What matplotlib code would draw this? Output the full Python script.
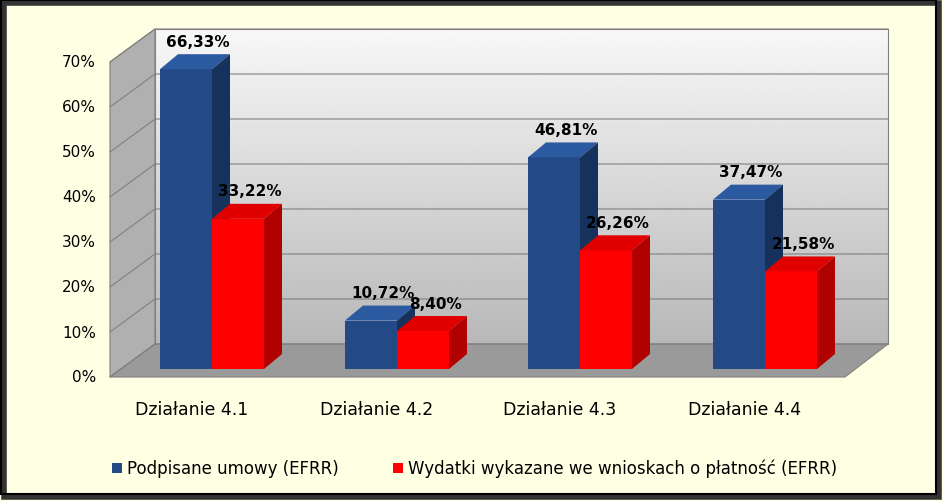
import matplotlib.pyplot as plt
import numpy as np
from matplotlib.patches import Polygon, Rectangle

categories = ["Działanie 4.1", "Działanie 4.2", "Działanie 4.3", "Działanie 4.4"]
signed = [66.33, 10.72, 46.81, 37.47]
spent = [33.22, 8.40, 26.26, 21.58]
series_names = ["Podpisane umowy (EFRR)", "Wydatki wykazane we wnioskach o płatność (EFRR)"]
y_ticks = [0, 10, 20, 30, 40, 50, 60, 70]

W, H = 943, 502
PX = 4.52          # pixels per percent
BASE = 370         # pixel row (from top) of the front 0 line


def py(p):
    # pixel row from top -> data y
    return (BASE - p) / PX


fig = plt.figure(figsize=(W / 100, H / 100), dpi=100)
fig.patch.set_facecolor("#FFFFE4")
ax = fig.add_axes([0, 0, 1, 1])
ax.set_xlim(0, W)
ax.set_ylim(py(H), py(0))
ax.axis("off")

# walls and floor
left_wall = [(110, py(378)), (155, py(345)), (155, py(30)), (110, py(63))]
back_wall = [(155, py(345)), (888, py(345)), (888, py(30)), (155, py(30))]
floor = [(110, py(378)), (155, py(345)), (888, py(345)), (845, py(378))]
grad = np.linspace(0.97, 0.72, 256)[:, None]
im = ax.imshow(grad, cmap="gray", vmin=0, vmax=1, aspect="auto",
               extent=(155, 888, py(345), py(30)), zorder=1)
bw = Polygon(back_wall, closed=True, fc="none", ec="#808080", lw=0.8, zorder=2)
ax.add_patch(bw)
im.set_clip_path(bw)
ax.add_patch(Polygon(left_wall, closed=True, fc="#b0b0b0", ec="#808080", lw=0.8, zorder=1))
ax.add_patch(Polygon(floor, closed=True, fc="#9a9a9a", ec="#808080", lw=0.8, zorder=2))
for k in y_ticks:
    yb = py(345 - 4.5 * k)
    yf = py(378 - 4.5 * k)
    ax.plot([110, 155, 888], [yf, yb, yb], color="#808080", lw=0.8, zorder=2)
    ax.text(96, yf, f"{k}%", ha="right", va="center", fontsize=11)

# 3D bars
DX, DY = 18, 15 / PX
bw_px = 52
centers = [212, 397, 580, 765]
colors = [("#234A86", "#2C5AA0", "#16325C"), ("#FF0000", "#E00000", "#B00000")]
for vals, off, (cf, ct, cs) in [(signed, -bw_px, colors[0]), (spent, 0, colors[1])]:
    xs = [c + off for c in centers]
    ax.bar(xs, vals, width=bw_px, align="edge", color=cf, zorder=5)
    for x0, v in zip(xs, vals):
        x1 = x0 + bw_px
        ax.add_patch(Polygon([(x0, v), (x1, v), (x1 + DX, v + DY), (x0 + DX, v + DY)],
                             fc=ct, ec="none", zorder=5))
        ax.add_patch(Polygon([(x1, 0), (x1 + DX, DY), (x1 + DX, v + DY), (x1, v)],
                             fc=cs, ec="none", zorder=5))
        ax.text(x0 + bw_px / 2 + 12, v + DY + 1.2, f"{v:.2f}%".replace(".", ","),
                ha="center", va="bottom", fontsize=11, fontweight="bold", zorder=6)

for c, name in zip(centers, categories):
    ax.text(c - 20, py(410), name, ha="center", va="center", fontsize=12.5)

# legend
ax.add_patch(Rectangle((112, py(474)), 10, 10 / PX, fc=colors[0][0], zorder=6))
ax.text(127, py(469), series_names[0], ha="left", va="center", fontsize=12)
ax.add_patch(Rectangle((393, py(474)), 10, 10 / PX, fc=colors[1][0], zorder=6))
ax.text(408, py(469), series_names[1], ha="left", va="center", fontsize=12)

# outer frame with shadow
ax.add_patch(Rectangle((4, py(498)), W - 8, 494 / PX, fc="none", ec="#333333", lw=4, zorder=0))
ax.add_patch(Rectangle((1, py(495)), W - 8, 494 / PX, fc="none", ec="black", lw=1.5, zorder=7))

fig.savefig("out.png", dpi=100, facecolor=fig.get_facecolor())
